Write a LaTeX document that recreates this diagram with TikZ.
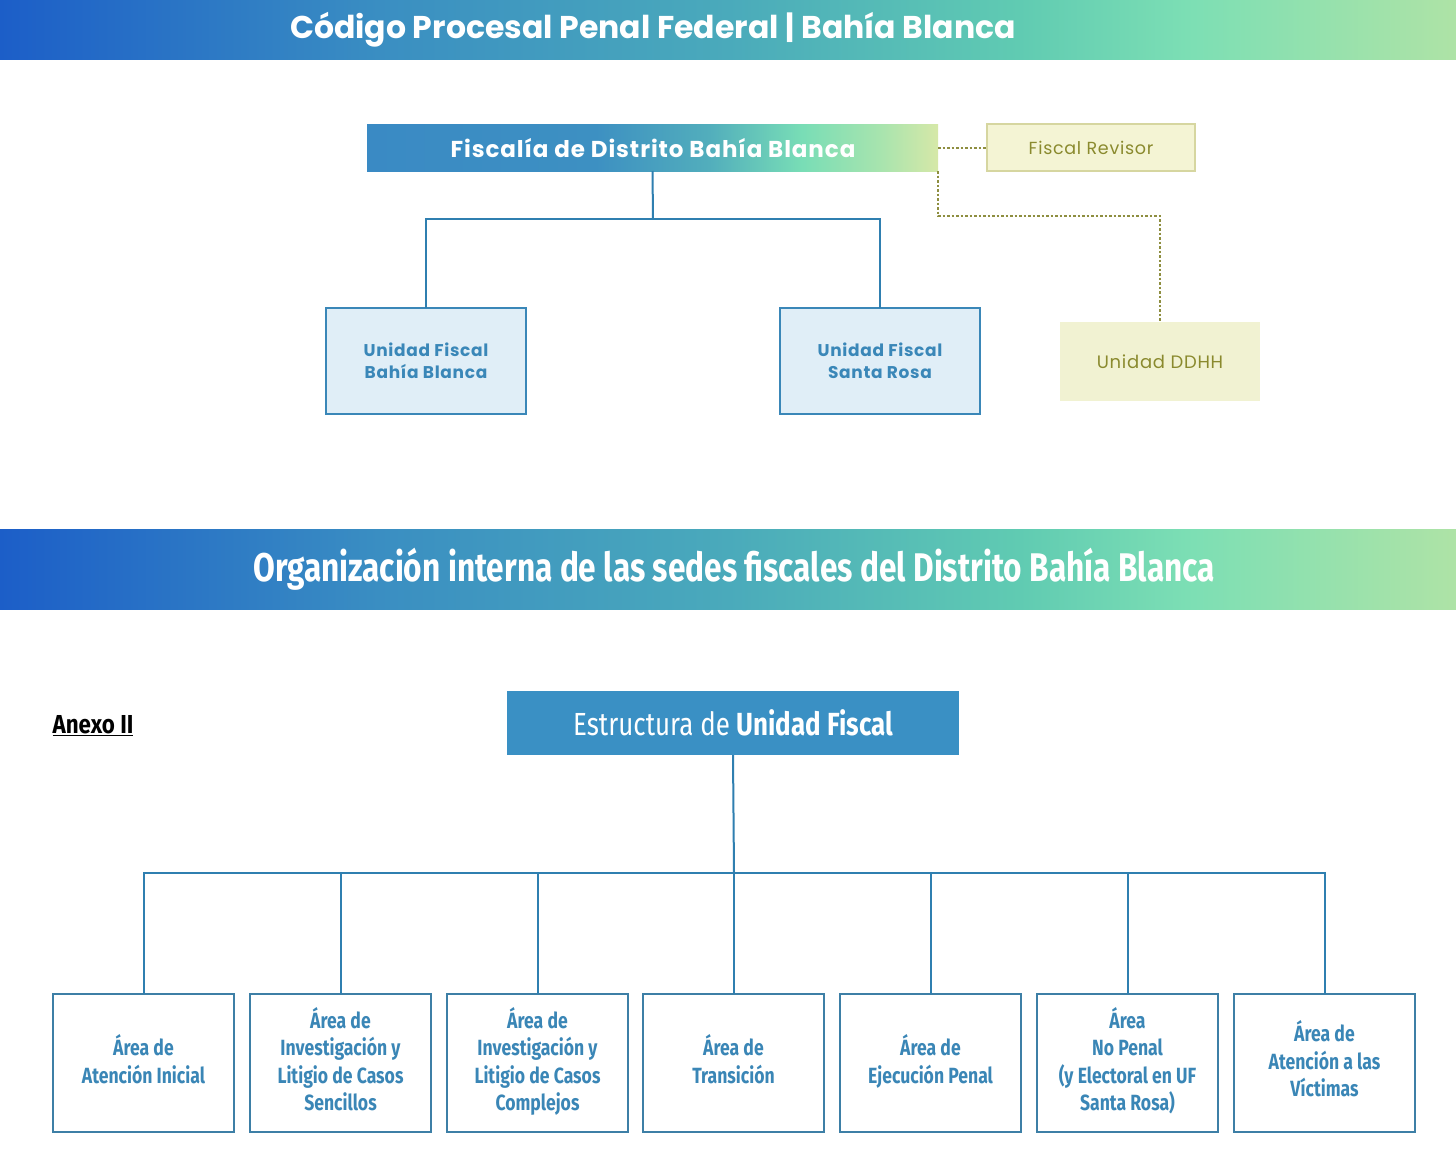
\documentclass[tikz,border=0pt]{standalone}
\usepackage{fontspec}
\setmainfont{Poppins}
\newfontfamily\condf{Fira Sans}
\newfontfamily\widef[LetterSpace=4]{Poppins}
\usepackage{graphicx}
\definecolor{bnA}{HTML}{1C5EC8}
\definecolor{bnB}{HTML}{3A8EC2}
\definecolor{bnC}{HTML}{4AAABB}
\definecolor{bnD}{HTML}{60CBB2}
\definecolor{bnE}{HTML}{7DDFB4}
\definecolor{bnF}{HTML}{AEE3A6}
\definecolor{fdA}{HTML}{3A8AC4}
\definecolor{fdB}{HTML}{3D90C2}
\definecolor{fdC}{HTML}{52AEBC}
\definecolor{fdD}{HTML}{78DDB6}
\definecolor{fdE}{HTML}{A8E4AE}
\definecolor{fdF}{HTML}{D6E8A8}
\definecolor{olive}{HTML}{8A8A2E}
\definecolor{oliveline}{HTML}{8E8E40}
\definecolor{revfill}{HTML}{F4F4D4}
\definecolor{revdraw}{HTML}{D6D6A0}
\definecolor{ddfill}{HTML}{F1F2D2}
\definecolor{ufill}{HTML}{E0EEF7}
\definecolor{ublue}{HTML}{3A87B8}
\definecolor{estfill}{HTML}{3A90C4}
\definecolor{treec}{HTML}{2F7FB0}
\definecolor{boxdraw}{HTML}{3D7FA6}
\definecolor{boxtext}{HTML}{3A86B6}
\pgfdeclarehorizontalshading{bannershade}{100bp}{color(0bp)=(bnA); color(25bp)=(bnA); color(38bp)=(bnB); color(50bp)=(bnC); color(60bp)=(bnD); color(66bp)=(bnE); color(75bp)=(bnF); color(100bp)=(bnF)}
\pgfdeclarehorizontalshading{fdshade}{100bp}{color(0bp)=(fdA); color(25bp)=(fdA); color(45bp)=(fdB); color(55bp)=(fdC); color(63bp)=(fdD); color(70bp)=(fdE); color(75bp)=(fdF); color(100bp)=(fdF)}
\newcommand\cx[2]{\scalebox{#1}[1]{#2}}
\tikzset{
  box/.style={inner sep=0pt, outer sep=0pt},
  banner/.style={box, shade, shading=bannershade, draw=none},
  tree/.style={draw=treec, line width=2pt},
  dotl/.style={draw=oliveline, line width=2pt, dash pattern=on 2.5pt off 2pt},
  ufbox/.style={box, fill=ufill, draw=ublue, line width=2pt, minimum width=200, minimum height=106,
     text=ublue, font=\widef\fontsize{17}{22}\selectfont\bfseries, align=center},
  areabox/.style={box, fill=white, draw=boxdraw, line width=2pt, minimum width=181, minimum height=138,
     text=boxtext},
}
\newcommand\areatxt[1]{{\condf\bfseries\fontsize{22}{27.5}\selectfont\cx{0.8}{\begin{tabular}{@{}c@{}}#1\end{tabular}}}}
\begin{document}
\begin{tikzpicture}[x=1pt,y=-1pt]
\useasboundingbox (0,0) rectangle (1456,1165);
\fill[white] (0,0) rectangle (1456,1165);
% top banner
\node[banner, minimum width=1456, minimum height=59] (topban) at (728,29.5) {};
\node[box, text=white, font=\fontsize{31.5}{34}\selectfont\bfseries] (toptitle) at (653,30) {Código Procesal Penal Federal | Bahía Blanca};
% fiscalia
\node[box, shade, shading=fdshade, minimum width=571, minimum height=47] (fd) at (652.5,147.5) {};
\node[box, text=white, font=\widef\fontsize{23}{26}\selectfont\bfseries] (fdt) at (653,148) {Fiscalía de Distrito Bahía Blanca};
\node[box, fill=revfill, draw=revdraw, line width=1.5pt, minimum width=208, minimum height=47, text=olive, font=\widef\fontsize{17.5}{20}\selectfont] (rev) at (1091,147.5) {Fiscal Revisor};
\node[box, fill=ddfill, minimum width=200, minimum height=79, text=olive, font=\widef\fontsize{18}{20}\selectfont] (ddhh) at (1160,361.5) {Unidad DDHH};
\node[ufbox] (ufbb) at (426,361) {Unidad Fiscal\\Bahía Blanca};
\node[ufbox] (ufsr) at (880,361) {Unidad Fiscal\\Santa Rosa};
\coordinate (j1) at (653,219);
\draw[tree] (fd.south) -- (j1);
\draw[tree] (j1) -| (ufbb.north);
\draw[tree] (j1) -| (ufsr.north);
\draw[dotl] (fd.east) -- (rev.west);
\coordinate (d1) at (938,216);
\draw[dotl] (fd.south east) -- (d1) -| (ddhh.north);
% second banner
\node[banner, minimum width=1456, minimum height=80] (ban2) at (728,569) {};
\node[box, text=white, font=\condf\bfseries\fontsize{40}{44}\selectfont] (ban2t) at (734,569) {\cx{0.79}{Organización interna de las sedes fiscales del Distrito Bahía Blanca}};
\node[box, font=\condf\bfseries\fontsize{26}{30}\selectfont] (anexo) at (93,726) {\cx{0.86}{\underline{Anexo II}}};
\node[box, fill=estfill, minimum width=452, minimum height=64, text=white, font=\condf\fontsize{32}{36}\selectfont] (est) at (733,723) {\cx{0.81}{Estructura de \textbf{Unidad Fiscal}}};
\coordinate (j2) at (734,873);
\draw[tree] (est.south) -- (j2);
\node[areabox] (a1) at (143.5,1063) {\areatxt{Área de\\Atención Inicial}};
\node[areabox] (a2) at (340.5,1063) {\areatxt{Área de\\Investigación y\\Litigio de Casos\\Sencillos}};
\node[areabox] (a3) at (537.5,1063) {\areatxt{Área de\\Investigación y\\Litigio de Casos\\Complejos}};
\node[areabox] (a4) at (733.5,1063) {\areatxt{Área de\\Transición}};
\node[areabox] (a5) at (930.5,1063) {\areatxt{Área de\\Ejecución Penal}};
\node[areabox] (a6) at (1127.5,1063) {\areatxt{Área\\No Penal\\(y Electoral en UF\\Santa Rosa)}};
\node[areabox] (a7) at (1324.5,1063) {\areatxt{Área de\\Atención a las\\Víctimas}};
\foreach \n in {a1,a2,a3,a4,a5,a6,a7} \draw[tree] (j2) -| (\n.north);
\end{tikzpicture}
\end{document}
